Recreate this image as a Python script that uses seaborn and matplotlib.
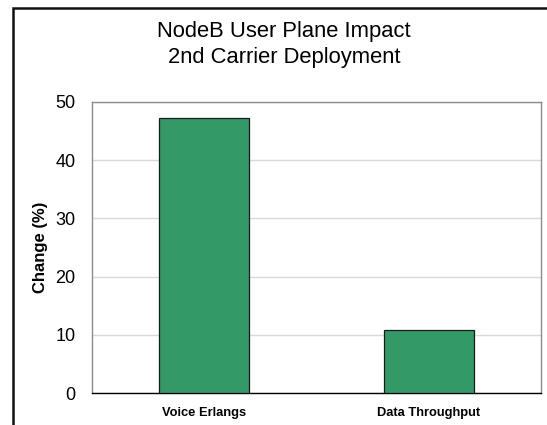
import matplotlib
matplotlib.use("Agg")
import matplotlib.pyplot as plt
import seaborn as sns
import pandas as pd
from matplotlib.patches import Rectangle

categories = ["Voice Erlangs", "Data Throughput"]
change_pct = [47.3, 10.9]
y_ticks = [0, 10, 20, 30, 40, 50]
title_lines = ["NodeB User Plane Impact", "2nd Carrier Deployment"]

df = pd.DataFrame({"Category": categories, "Change": change_pct})

sns.set_theme(style="white")
plt.rcParams["font.family"] = ["Liberation Sans", "DejaVu Sans"]
plt.rcParams["text.color"] = "black"
plt.rcParams["xtick.color"] = "black"
plt.rcParams["ytick.color"] = "black"
plt.rcParams["axes.labelcolor"] = "black"

W, H = 547, 425
fig = plt.figure(figsize=(W / 100, H / 100), dpi=100)
ax = fig.add_axes([92 / W, 1 - 393 / H, (541 - 92) / W, (393 - 102) / H])

sns.barplot(data=df, x="Category", y="Change", ax=ax, color="#339966",
            saturation=1, width=0.4, edgecolor="#1a1a1a", linewidth=0.9,
            zorder=3)

ax.set_xlim(-0.5, 1.5)
ax.set_ylim(0, 50)
ax.set_yticks(y_ticks)
ax.set_yticklabels([str(t) for t in y_ticks], fontsize=13)
ax.tick_params(axis="y", length=0, pad=12)
ax.tick_params(axis="x", length=0, pad=10)
for lbl in ax.get_xticklabels():
    lbl.set_fontweight("bold")
    lbl.set_fontsize(9.3)
ax.yaxis.grid(True, color="#d9d9d9", linewidth=1)
ax.set_axisbelow(True)
ax.set_xlabel("")
ax.set_ylabel("Change (%)", fontsize=12, fontweight="bold")
ax.yaxis.set_label_coords((48 - 92) / (541 - 92), 0.5)

for side in ["left", "top", "right"]:
    ax.spines[side].set_color("#8c8c8c")
    ax.spines[side].set_linewidth(1.0)
ax.spines["bottom"].set_color("#000000")
ax.spines["bottom"].set_linewidth(1.0)

# two-line chart title, placed by baseline
for line, base_y in zip(title_lines, [37.5, 63.5]):
    fig.text(284 / W, 1 - base_y / H, line, ha="center", va="baseline",
             fontsize=15.8)

# outer chart frame
fig.patches.append(Rectangle((13 / W, -0.05), 1.1, 1 - 8 / H + 0.05,
                             transform=fig.transFigure, fill=False,
                             edgecolor="#111111", linewidth=1.8))

fig.savefig("out.png", dpi=100)
